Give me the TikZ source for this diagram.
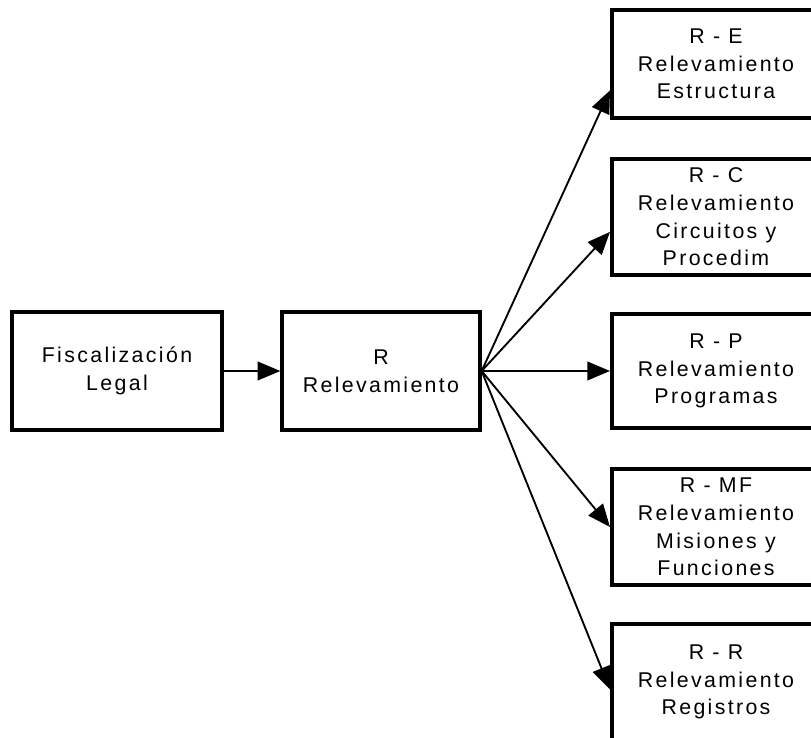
\documentclass[tikz,border=0pt]{standalone}
\usepackage{fontspec}
\setmainfont{Liberation Sans}[LetterSpace=11]
\usetikzlibrary{arrows.meta}

\begin{document}
\begin{tikzpicture}[x=0.75pt, y=-0.75pt,
    box/.style={draw, line width=3pt, align=center, inner sep=0pt,
        font=\fontsize{16}{20.8}\selectfont},
    sidebox/.style={box, minimum width=156pt},
    link/.style={-{Triangle[length=17pt,width=14pt]}, line width=1.4pt}]
    \useasboundingbox (0,0) rectangle (811,738);
    \clip (0,0) rectangle (811,738);

    % Main chain
    \node[box, minimum width=157pt, minimum height=88pt] (fisc) at (117,371) {Fiscalización\\Legal};
    \node[box, minimum width=148pt, minimum height=88pt] (rel) at (381,371) {R\\Relevamiento};
    \draw[link] (fisc.east) -- (rel.west);

    % Sub-surveys (cut at the right edge)
    \node[sidebox, minimum height=81pt] (re) at (716,64) {R - E\\Relevamiento\\Estructura};
    \node[sidebox, minimum height=87pt] (rc) at (716,217) {R - C\\Relevamiento\\Circuitos y\\Procedim};
    \node[sidebox, minimum height=85.5pt] (rp) at (716,371) {R - P\\Relevamiento\\Programas};
    \node[sidebox, minimum height=87pt] (rmf) at (716,527) {R - MF\\Relevamiento\\Misiones y\\Funciones};
    \node[sidebox, minimum height=87pt] (rr) at (716,682) {R - R\\Relevamiento\\Registros};

    % Fan of arrows
    \foreach \b/\a in {re/194, rc/188, rp/180, rmf/180, rr/184} {
        \draw[link] (rel.east) -- (\b.\a);
    }
\end{tikzpicture}
\end{document}
